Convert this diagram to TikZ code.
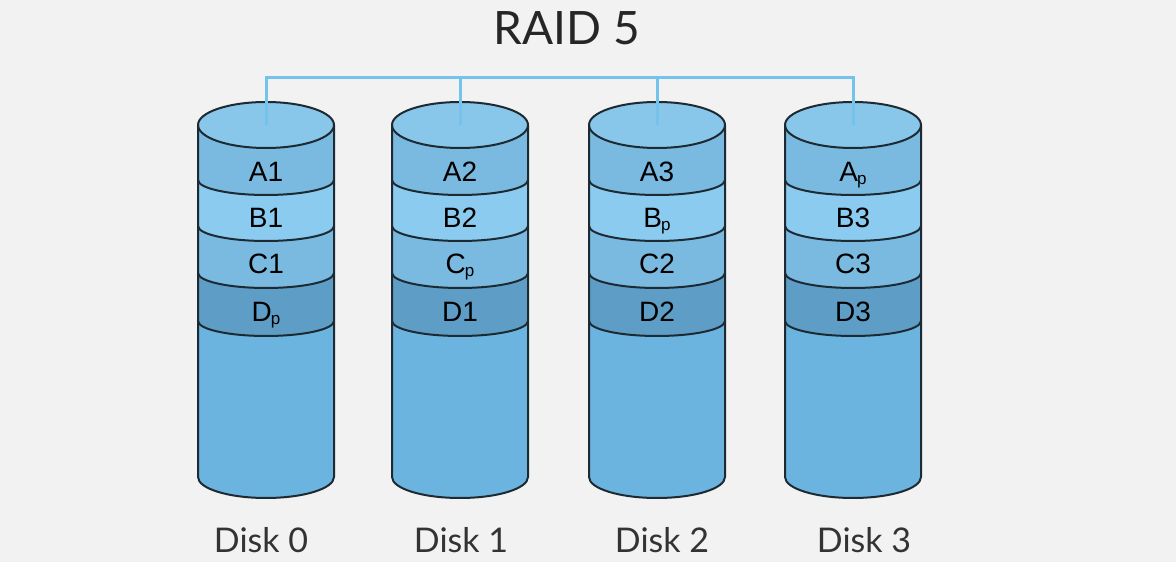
\documentclass[tikz,border=0pt]{standalone}
\usepackage{fontspec}
\setmainfont{Lato}
\newfontfamily\blockfont{Liberation Sans}
\usepackage{pgf,tikz}

\definecolor{bgc}{HTML}{F2F2F2}
\definecolor{bodyc}{HTML}{6CB4E0}
\definecolor{topc}{HTML}{88C6EA}
\definecolor{bandA}{HTML}{7AB9E0}
\definecolor{bandB}{HTML}{8BCBEF}
\definecolor{bandD}{HTML}{5E9EC6}
\definecolor{rimc}{HTML}{1E2A32}
\definecolor{busc}{HTML}{74C3EC}

\newcommand{\parsub}{\kern-0.03em\raisebox{-0.1em}{\fontsize{17}{17}\selectfont p}}

\tikzset{
  rim/.style={draw=rimc,line width=2pt},
  busline/.style={draw=busc,line width=3pt},
  blocklbl/.style={anchor=base,font=\blockfont\fontsize{28}{28}\selectfont,text=black},
  disklbl/.style={anchor=base,font=\fontsize{34}{34}\selectfont,text=black!80}
}

\begin{document}
\begin{tikzpicture}[line cap=round,line join=round,x=1pt,y=1pt]
\fill[bgc] (0,0) rectangle (1176,562);
\useasboundingbox (0,0) rectangle (1176,562);

\node[anchor=base,font=\fontsize{46}{46}\selectfont,text=black!85] (title) at (567,517) {RAID 5};

\foreach \cx/\dx/\la/\lb/\lc/\ld [count=\i from 0] in {266/-5/A1/B1/C1/D\parsub, 460/1/A2/B2/C\parsub/D1, 657/5/A3/B\parsub/C2/D2, 853/11/A\parsub/B3/C3/D3}
{
\begin{scope}[shift={(\cx,0)}]
% body
\fill[bodyc] (-68,437) -- (-68,85) arc[start angle=180,end angle=360,x radius=68,y radius=21] -- (68,437) -- cycle;
% stripes
\fill[bandA] (-68,437) arc[start angle=180,end angle=360,x radius=68,y radius=23] -- (68,382) arc[start angle=0,end angle=-180,x radius=68,y radius=15] -- cycle;
\fill[bandB] (-68,382) arc[start angle=180,end angle=360,x radius=68,y radius=15] -- (68,336) arc[start angle=0,end angle=-180,x radius=68,y radius=15] -- cycle;
\fill[bandA] (-68,336) arc[start angle=180,end angle=360,x radius=68,y radius=15] -- (68,289) arc[start angle=0,end angle=-180,x radius=68,y radius=15] -- cycle;
\fill[bandD] (-68,289) arc[start angle=180,end angle=360,x radius=68,y radius=15] -- (68,241) arc[start angle=0,end angle=-180,x radius=68,y radius=15] -- cycle;
% top
\filldraw[fill=topc,rim] (0,437) ellipse[x radius=68,y radius=23];
\coordinate (top\i) at (0,437);
\coordinate (bus\i) at (0,484);
% outline
\draw[rim] (-68,437) -- (-68,85) arc[start angle=180,end angle=360,x radius=68,y radius=21] -- (68,437);
\foreach \lv in {382,336,289,241}
  \draw[rim] (-68,\lv) arc[start angle=180,end angle=360,x radius=68,y radius=15];
% labels
\node[blocklbl] (a\i) at (0,380) {\la};
\node[blocklbl] (b\i) at (0,334) {\lb};
\node[blocklbl] (c\i) at (0,288) {\lc};
\node[blocklbl] (d\i) at (0,240) {\ld};
\node[disklbl] (disk\i) at (\dx,9) {Disk \i};
\end{scope}
}

% bus
\draw[busline,line join=miter,line cap=butt] (top0) -- (bus0) -- (bus3) -- (top3);
\draw[busline,line cap=butt] (bus1) -- (top1);
\draw[busline,line cap=butt] (bus2) -- (top2);
\end{tikzpicture}
\end{document}
